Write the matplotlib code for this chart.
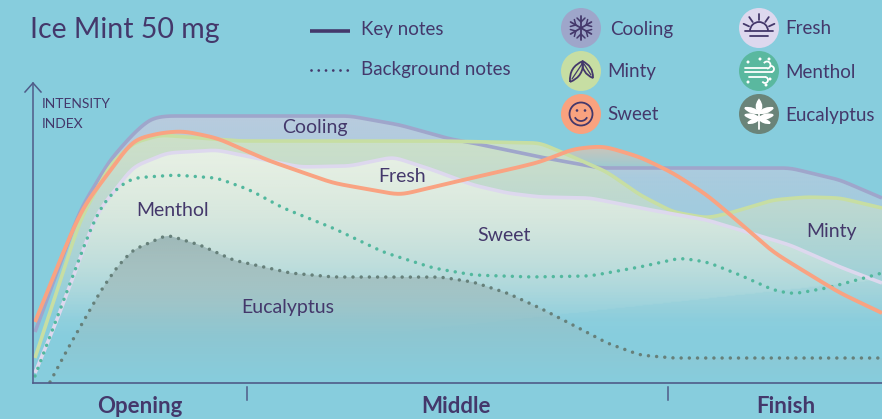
import numpy as np
import matplotlib
matplotlib.use('Agg')
import matplotlib.pyplot as plt
from matplotlib.patches import Circle, PathPatch, Polygon, Arc
from matplotlib.path import Path

plt.rcParams['font.family'] = ['Lato', 'DejaVu Sans']

BG = '#87cddd'
INK = '#44386b'
AXIS = '#4f5b88'

# curves: x = time along the axis, y = intensity
cooling_x = [2, 47, 77, 100, 117, 132, 317, 367, 417, 440, 507, 567, 757, 807, 849]
cooling_y = [51, 173, 223, 249, 264, 267, 267, 258, 244, 240, 226, 215, 215, 203, 185]
minty_x = [2, 47, 77, 100, 127, 167, 207, 407, 507, 540, 574, 607, 640, 674, 697, 740, 774, 807, 849]
minty_y = [25, 163, 218, 240, 248, 245, 242, 242, 240, 226, 211, 188, 171, 165, 170, 183, 186, 185, 175]
sweet_x = [2, 34, 50, 100, 127, 150, 184, 234, 300, 367, 417, 474, 507, 540, 570, 607, 640, 674, 707, 740, 774, 807, 849]
sweet_y = [61, 140, 176, 243, 250, 252, 245, 223, 200, 188, 200, 213, 221, 234, 237, 226, 210, 188, 160, 131, 110, 90, 70]
fresh_x = [2, 24, 64, 100, 134, 184, 217, 267, 317, 360, 400, 440, 474, 507, 557, 607, 674, 707, 757, 807, 849]
fresh_y = [10, 63, 170, 216, 230, 233, 226, 216, 217, 226, 213, 198, 190, 186, 185, 175, 163, 153, 138, 116, 100]
menthol_x = [2, 42, 54, 67, 84, 100, 142, 184, 217, 250, 300, 350, 400, 440, 497, 557, 607, 647, 674, 707, 740, 760, 794, 824, 849]
menthol_y = [7, 113, 145, 175, 195, 205, 208, 205, 193, 175, 155, 131, 115, 108, 106, 107, 116, 125, 121, 108, 93, 89, 95, 103, 110]
euca_x = [17, 34, 50, 67, 84, 100, 134, 167, 200, 257, 300, 407, 440, 474, 507, 540, 574, 607, 640, 849]
euca_y = [1, 33, 61, 91, 116, 133, 148, 138, 123, 110, 106, 106, 101, 90, 75, 58, 40, 28, 25, 25]

phases = ['Opening', 'Middle', 'Finish']
phase_x = [107, 423, 753]
phase_ticks = [214, 635]


def smooth(xs, ys, win=13):
    # dense resample, then box filter twice so the corners round off
    grid = np.arange(xs[0], xs[-1] + 1)
    vals = np.interp(grid, xs, ys)
    kernel = np.ones(win) / win
    for _ in range(2):
        pad = np.pad(vals, win, mode='reflect', reflect_type='odd')
        vals = np.convolve(pad, kernel, mode='same')[win:-win]
    return grid, vals


def gradient_fill(ax, x, y, color, top, bottom, a_top, a_bot, z, step=None):
    # vertical alpha fade clipped to the area under the curve
    rgb = matplotlib.colors.to_rgb(color)
    hs = np.arange(0, 300)
    xs = np.arange(0, 850, 2)
    X, Y = np.meshgrid(xs, hs)
    t = np.clip((top - Y) / (top - bottom), 0, 1)
    alpha = a_top + (a_bot - a_top) * t
    if step is not None:
        # the picture has a faint slanted edge where this layer's gradient stops
        x0, y0, x1, y1, k = step
        alpha = np.where(Y < y0 + (y1 - y0) * (X - x0) / (x1 - x0), alpha * k, alpha)
    img = np.zeros(X.shape + (4,))
    img[..., 0], img[..., 1], img[..., 2] = rgb
    img[..., 3] = alpha
    im = ax.imshow(img, origin='lower', extent=(0, 850, 0, 300), aspect='auto', zorder=z, interpolation='bilinear')
    verts = list(zip(x, y)) + [(x[-1], 0), (x[0], 0)]
    patch = Polygon(verts, closed=True, transform=ax.transData, fc='none', ec='none')
    ax.add_patch(patch)
    im.set_clip_path(patch)


fig = plt.figure(figsize=(8.82, 4.19), dpi=100, facecolor=BG)
ax = fig.add_axes([0, 0, 1, 1])
ax.set_facecolor(BG)
ax.axis('off')

cx, cy = smooth(cooling_x, cooling_y)
mx, my = smooth(minty_x, minty_y)
sx, sy = smooth(sweet_x, sweet_y, win=17)
fx, fy = smooth(fresh_x, fresh_y)
nx, ny = smooth(menthol_x, menthol_y)
ex, ey = smooth(euca_x, euca_y, win=9)

gradient_fill(ax, sx, sy, '#dcc3b2', 240, 205, 0.95, 0.0, 2)
gradient_fill(ax, cx, cy, '#b9cbdf', 267, 60, 1.0, 0.0, 3)
gradient_fill(ax, mx, my, '#cde1c8', 250, 60, 1.0, 0.0, 4)
gradient_fill(ax, fx, fy, '#e8f1e6', 235, 45, 1.0, 0.0, 5, step=(407, 55, 849, 103, 0.55))
gradient_fill(ax, ex, ey, '#9db8b8', 150, 0, 1.0, 0.0, 6)

ax.plot(cx, cy, color='#9fa6cb', lw=2.6, zorder=7, solid_capstyle='butt')
ax.plot(mx, my, color='#c7dea3', lw=2.6, zorder=8, solid_capstyle='butt')
ax.plot(fx, fy, color='#ddd8ee', lw=2.6, zorder=9, solid_capstyle='butt')
ax.plot(nx, ny, color='#52b89e', lw=2.5, ls=(0, (0.01, 2.35)), dash_capstyle='round', zorder=10)
ax.plot(ex, ey, color='#66807a', lw=2.5, ls=(0, (0.01, 2.35)), dash_capstyle='round', zorder=10)
ax.plot(sx, sy, color='#f9a382', lw=2.8, zorder=11, solid_capstyle='butt')

# axes
ax.plot([0, 0], [0, 300], color=AXIS, lw=1.1, zorder=12)
ax.plot([-8, 0, 8], [291, 300, 291], color=AXIS, lw=1.1, zorder=12)
ax.plot([0, 849], [0, 0], color=AXIS, lw=1.2, zorder=12)
for t in phase_ticks:
    ax.plot([t, t], [-4, -17], color=AXIS, lw=1.1)
for name, x in zip(phases, phase_x):
    ax.text(x, -23, name, color=INK, fontsize=16, fontweight='bold', ha='center', va='center')

ax.text(9, 279, 'INTENSITY', color=INK, fontsize=10, va='center')
ax.text(9, 259, 'INDEX', color=INK, fontsize=10, va='center')
ax.text(-3, 353, 'Ice Mint 50 mg', color=INK, fontsize=20.5, va='center')

# labels on the curves
curve_labels = [('Cooling', 282, 256), ('Fresh', 369, 206), ('Menthol', 140, 173),
                ('Sweet', 471, 148), ('Minty', 799, 152), ('Eucalyptus', 255, 75)]
for name, x, y in curve_labels:
    ax.text(x, y, name, color=INK, fontsize=14, ha='center', va='center', zorder=13)

# line style key
ax.plot([277, 317], [352, 352], color=INK, lw=2.6, solid_capstyle='butt')
ax.plot([278, 317], [313, 313], color=INK, lw=2.0, ls=(0, (0.01, 2.6)), dash_capstyle='round')
ax.text(328, 353, 'Key notes', color=INK, fontsize=13.5, va='center')
ax.text(328, 313, 'Background notes', color=INK, fontsize=13.5, va='center')


def line(px, py, c, lw=1.3):
    ax.plot(px, py, color=c, lw=lw, solid_capstyle='round', zorder=15)


def icon_cooling(x, y):
    for ang in np.deg2rad([90, 30, -30, 210, 150, 270]):
        d = np.array([np.cos(ang), np.sin(ang)])
        n = np.array([-d[1], d[0]])
        line([x, x + 12 * d[0]], [y, y + 12 * d[1]], INK)
        for s in (1, -1):
            line([x + 6 * d[0], x + 6 * d[0] + 4 * d[0] + s * 4 * n[0]],
                 [y + 6 * d[1], y + 6 * d[1] + 4 * d[1] + s * 4 * n[1]], INK, 1.1)


def icon_fresh(x, y):
    ax.add_patch(Arc((x, y - 3), 18, 18, theta1=0, theta2=180, ec=INK, lw=1.3, zorder=15))
    for ang in np.deg2rad([25, 55, 90, 125, 155]):
        line([x + 11 * np.cos(ang), x + 17 * np.cos(ang)], [y - 3 + 11 * np.sin(ang), y - 3 + 17 * np.sin(ang)], INK)
    line([x - 14, x + 14], [y - 3, y - 3], INK)
    line([x - 9, x + 9], [y - 8, y - 8], INK)


def leaf(x0, y0, x1, y1, w, fc, ec):
    mid = np.array([(x0 + x1) / 2, (y0 + y1) / 2])
    d = np.array([x1 - x0, y1 - y0], dtype=float)
    n = np.array([-d[1], d[0]]) / np.hypot(*d) * w
    a, b = mid + n, mid - n
    p = Path([(x0, y0), tuple(a), (x1, y1), tuple(b), (x0, y0)],
             [Path.MOVETO, Path.CURVE3, Path.LINETO, Path.CURVE3, Path.LINETO])
    p = Path([(x0, y0), tuple(a), (x1, y1), tuple(b), (x0, y0)],
             [Path.MOVETO, Path.CURVE3, Path.CURVE3, Path.CURVE3, Path.CURVE3])
    ax.add_patch(PathPatch(p, fc=fc, ec=ec, lw=1.3, zorder=15))


def icon_minty(x, y):
    leaf(x - 11, y - 11, x + 2, y + 10, 9, 'none', INK)
    leaf(x + 1, y + 10, x + 12, y - 7, 7, 'none', INK)
    line([x - 9, x + 1], [y - 8, y + 7], INK, 0.9)
    line([x + 3, x + 10], [y + 7, y - 4], INK, 0.9)


def icon_sweet(x, y):
    ax.add_patch(Circle((x, y), 11.5, fc='none', ec=INK, lw=1.3, zorder=15))
    ax.add_patch(Arc((x, y - 1), 13, 12, theta1=200, theta2=340, ec=INK, lw=1.3, zorder=15))
    ax.add_patch(Circle((x - 4, y + 3.5), 1.3, fc=INK, ec='none', zorder=15))
    ax.add_patch(Circle((x + 4, y + 3.5), 1.3, fc=INK, ec='none', zorder=15))


def icon_menthol(x, y):
    line([x - 14, x + 8], [y + 3, y + 3], 'white')
    line([x - 14, x + 13], [y - 1, y - 1], 'white')
    line([x - 10, x + 6], [y - 6, y - 6], 'white')
    ax.add_patch(Arc((x + 8, y + 6), 7, 7, theta1=-90, theta2=150, ec='white', lw=1.3, zorder=15))
    ax.add_patch(Arc((x + 12, y + 2), 6, 6, theta1=-90, theta2=100, ec='white', lw=1.3, zorder=15))
    ax.add_patch(Arc((x + 6, y - 9), 6, 6, theta1=-150, theta2=90, ec='white', lw=1.3, zorder=15))
    for dx, dy in [(-11, 9), (1, 12), (10, 12), (-11, -11), (11, -8), (7, -14)]:
        ax.add_patch(Circle((x + dx, y + dy), 1.5, fc='white', ec='none', zorder=15))


def icon_euca(x, y):
    leaf(x, y + 1, x, y + 14, 5, 'white', 'white')
    for s in (1, -1):
        leaf(x, y + 1, x + s * 14, y + 6, 4, 'white', 'white')
        leaf(x, y - 4, x + s * 14, y - 1, 4, 'white', 'white')
        leaf(x, y - 5, x + s * 11, y - 9, 3, 'white', 'white')
    line([x, x], [y - 15, y + 6], 'white', 1.3)


legend_names = ['Cooling', 'Minty', 'Sweet', 'Fresh', 'Menthol', 'Eucalyptus']
legend_cols = ['#9ea6ca', '#c7dea3', '#f9a27f', '#ddd8ee', '#5ab89f', '#6a8479']
legend_x = [548, 548, 548, 726, 726, 726]
legend_y = [355, 312, 269, 355, 312, 269]
legend_tx = [577, 574, 574, 752, 752, 752]
legend_ty = [353, 311, 269, 354, 311, 268]
legend_icons = [icon_cooling, icon_minty, icon_sweet, icon_fresh, icon_menthol, icon_euca]
for i, name in enumerate(legend_names):
    ax.add_patch(Circle((legend_x[i], legend_y[i]), 20, fc=legend_cols[i], ec='none', zorder=14))
    legend_icons[i](legend_x[i], legend_y[i])
    ax.text(legend_tx[i], legend_ty[i], name, color=INK, fontsize=13.5, va='center', zorder=15)

ax.set_xlim(-33, 849)
ax.set_ylim(-36, 383)
fig.savefig('out.png', dpi=100, facecolor=BG)
